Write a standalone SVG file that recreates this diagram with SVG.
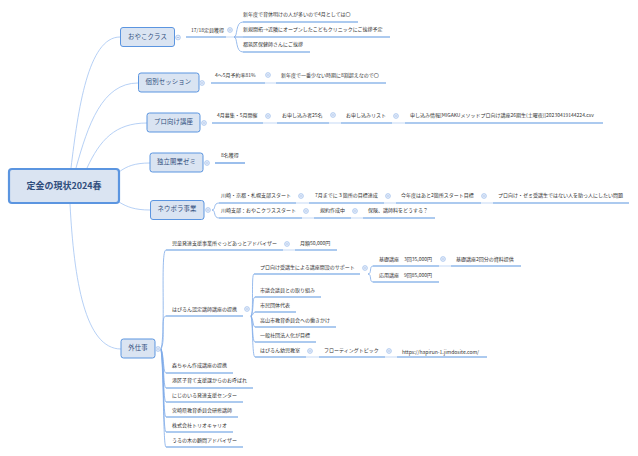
<svg xmlns="http://www.w3.org/2000/svg" width="638" height="456" viewBox="0 0 638 456">
<style>
text{font-family:"Noto Sans CJK JP","Noto Sans",sans-serif;fill:#333}
.t{font-size:5px}
.m{font-size:6.4px;fill:#2f4d7c;text-anchor:middle;letter-spacing:.15px}
.b{fill:#dae4f2;stroke:#5b95e0;stroke-width:1}
.u{stroke:#5b95e0;stroke-width:1.2;fill:none}
.p{stroke:#a3c4f2;stroke-width:.8;fill:none}
.q{stroke:#7fabe8;stroke-width:.8;fill:none}
.s{stroke:#c5d9f5;stroke-width:1;fill:none}
.d{fill:#e6eefb;stroke:#9dbde9;stroke-width:.7}
.n{stroke:#7f9fd6;stroke-width:.5}
</style>
<defs>
<g id="dot"><circle class="d" r="2.4"/><line class="n" x1="-1.2" x2="1.2"/></g>
</defs>
<rect width="638" height="456" fill="#fff"/>
<g id="connectors">
<path class="p" d="M71 168C78 110 88 37 120 37"/>
<path class="p" d="M76 168C88 125 102 83 138 83"/>
<path class="p" d="M87 168C100 140 115 123 147 123"/>
<path class="p" d="M119 172C127 166 135 163 150 163"/>
<path class="p" d="M119 202C127 207 135 210 150 210"/>
<path class="p" d="M70 204C74 280 85 349 121 349"/>
<path class="s" d="M226 37H243M265 83H276M263 123H277M329 123H341M392 123H405M384 203H396M481 203H493M351 218H363M283 250H295M439 266H451M385 357H397M306 357H319M296 203H309M302 218H314"/>
<path class="q" d="M234 37C238 37 235 22 243 22M234 37H243M234 37C238 37 235 52 243 52"/>
<path class="q" d="M212 210C216 210 213 203 219 203M212 210C216 210 213 218 219 218"/>
<path class="q" d="M161 349C166 330 160 250 166 250M161 349C166 340 160 316 166 316M161 349C164 355 163 373 166 373M161 349C164 355 163 388 166 388M161 349C164 360 163 402 166 402M161 349C164 365 163 417 166 417M161 349C164 370 163 432 166 432M161 349C164 375 163 447 166 447"/>
<path class="q" d="M251 316C254 312 251 274 254 274M251 316C254 312 252 297 255 297M251 316C253 316 253 312 255 312M251 316C253 318 253 327 255 327M251 316C253 320 252 342 255 342M251 316C253 322 252 357 255 357"/>
<path class="q" d="M368 274C372 274 369 266 373 266M368 274C372 274 369 282 373 282"/>
<path class="u" d="M186 37H226M243 22H358M243 37H390M243 52H310"/>
<path class="u" d="M211 83H265M276 83H386"/>
<path class="u" d="M212 123H263M277 123H329M341 123H392M405 123H603"/>
<path class="u" d="M215 163H245"/>
<path class="u" d="M219 203H296M309 203H384M396 203H481M493 203H629M219 218H302M314 218H351M363 218H435"/>
<path class="u" d="M166 250H283M295 250H337M166 316H243"/>
<path class="u" d="M254 274H360M373 266H439M451 266H521M373 282H439M255 297H321M255 312H296M255 327H336M255 342H316M255 357H306M319 357H385M397 357H487"/>
<path class="u" d="M166 373H233M166 388H253M166 402H243M166 417H238M166 432H233M166 447H243"/>
</g>
<g id="root"><rect x="9" y="169" width="110" height="34" rx="3" fill="#dae4f2" stroke="#5b95e0" stroke-width="2.200"/><text x="64" y="189" style="font-size:9px;font-weight:700;fill:#2f4d7c;text-anchor:middle">定金の現状2024春</text></g>
<g id="n-oyako"><rect class="b" x="120.500" y="27.500" width="54" height="19" rx="2.500"/><text class="m" x="147.500" y="38.500">おやこクラス</text><use href="#dot" x="178" y="37.500"/></g>
<g id="n-kobetsu"><rect class="b" x="138.500" y="73" width="60.500" height="19" rx="2.500"/><text class="m" x="168.500" y="83.500">個別セッション</text><use href="#dot" x="202" y="83"/></g>
<g id="n-pro"><rect class="b" x="147" y="113" width="53" height="19" rx="2.500"/><text class="m" x="173.500" y="123.500">プロ向け講座</text><use href="#dot" x="204" y="123"/></g>
<g id="n-dokuritsu"><rect class="b" x="150" y="153" width="53" height="19" rx="2.500"/><text class="m" x="176.500" y="163.500">独立開業ゼミ</text><use href="#dot" x="207" y="163"/></g>
<g id="n-neubora"><rect class="b" x="150.500" y="200.500" width="53.500" height="19" rx="2.500"/><text class="m" x="177" y="211">ネウボラ事業</text><use href="#dot" x="208" y="210"/></g>
<g id="n-soto"><rect class="b" x="121" y="339" width="34" height="19" rx="2.500"/><text class="m" x="138" y="350">外仕事</text><use href="#dot" x="158" y="349"/></g>
<g id="dots">
<use href="#dot" x="230" y="30"/><use href="#dot" x="268" y="75"/><use href="#dot" x="268" y="116"/><use href="#dot" x="333" y="115"/><use href="#dot" x="396" y="116"/>
<use href="#dot" x="301" y="196"/><use href="#dot" x="388" y="196"/><use href="#dot" x="484" y="196"/><use href="#dot" x="306" y="211"/><use href="#dot" x="355" y="211"/>
<use href="#dot" x="287" y="244"/><use href="#dot" x="247" y="309"/><use href="#dot" x="365" y="268"/><use href="#dot" x="443" y="259"/><use href="#dot" x="310" y="351"/><use href="#dot" x="389" y="351"/>
</g>
<g id="topics">
<text class="t" x="191" y="31.500">17/18定員獲得</text>
<text class="t" x="243" y="16">新年度で育休明けの人が多いので4月としては〇</text>
<text class="t" x="243" y="31">新規開拓→近隣にオープンしたこどもクリニックにご挨拶予定</text>
<text class="t" x="243" y="46">都筑区保健師さんにご挨拶</text>
<text class="t" x="215" y="77">4〜5月予約率81%</text>
<text class="t" x="281" y="77">新年度で一番少ない時期に8割超えなので〇</text>
<text class="t" x="217" y="117">4月募集・5月開催</text>
<text class="t" x="282" y="117">お申し込み者25名</text>
<text class="t" x="346" y="117">お申し込みリスト</text>
<text class="t" x="410" y="117">申し込み情報[MIGAKUメソッドプロ向け講座26期生(土曜夜)]20230419144224.csv</text>
<text class="t" x="221" y="157">8名獲得</text>
<text class="t" x="221" y="197">川崎・京都・札幌支部スタート</text>
<text class="t" x="315" y="197">7月までに３箇所の目標達成</text>
<text class="t" x="401" y="197">今年度はあと2箇所スタート目標</text>
<text class="t" x="498" y="197">プロ向け・ゼミ受講生ではない人を助っ人にしたい問題</text>
<text class="t" x="221" y="212">川崎支部：おやこクラススタート</text>
<text class="t" x="320" y="212">規約作成中</text>
<text class="t" x="368" y="212">保険、講師料をどうする？</text>
<text class="t" x="172" y="244.500">児童発達支援事業所ぐっどあっとアドバイザー</text>
<text class="t" x="300" y="244.500">月額50,000円</text>
<text class="t" x="172" y="310.500">はぴるん認定講師講座の提携</text>
<text class="t" x="260" y="268.500">プロ向け受講生による講座開設のサポート</text>
<text class="t" x="379" y="261">基礎講座　3回35,000円</text>
<text class="t" x="456" y="261">基礎講座2回分の資料提供</text>
<text class="t" x="379" y="277">応用講座　9回85,000円</text>
<text class="t" x="260" y="291.500">市議会議員との取り組み</text>
<text class="t" x="260" y="306.500">市民団体代表</text>
<text class="t" x="260" y="321.500">高山市教育委員会への働きかけ</text>
<text class="t" x="260" y="336.500">一般社団法人化が目標</text>
<text class="t" x="260" y="351.500">はぴるん幼児教室</text>
<text class="t" x="324" y="351.500">フローティングトピック</text>
<text class="t" x="402" y="353.500">https://hapirun-1.jimdosite.com/</text>
<text class="t" x="172" y="366.500">森ちゃん作成講座の提携</text>
<text class="t" x="172" y="381.500">港区子育て支援課からのお呼ばれ</text>
<text class="t" x="172" y="396.500">にじのいる発達支援センター</text>
<text class="t" x="172" y="411.500">宮崎県教育委員会研修講師</text>
<text class="t" x="172" y="426.500">株式会社トリオキャリオ</text>
<text class="t" x="172" y="441.500">うるの木の顧問アドバイザー</text>
</g>
</svg>
